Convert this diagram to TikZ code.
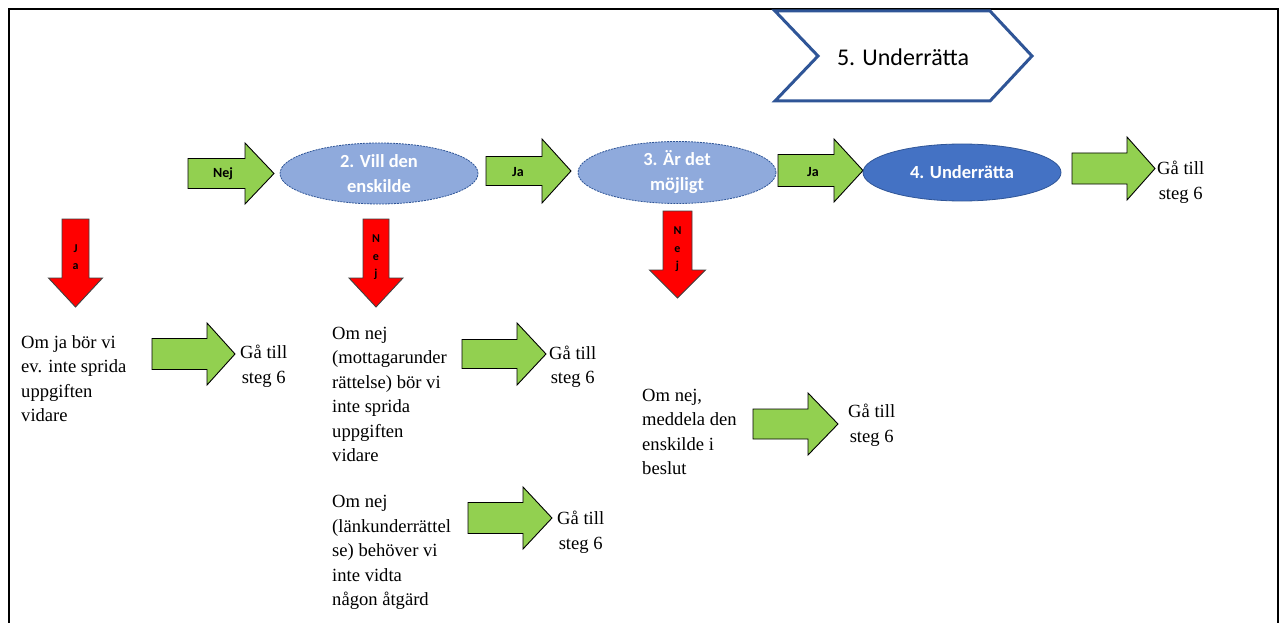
\documentclass[tikz,border=0pt]{standalone}
\usepackage{fontspec}
\setmainfont{Liberation Serif}
\newfontfamily\calib{Carlito}
\usetikzlibrary{shapes.geometric}
\definecolor{greenfill}{HTML}{92D050}
\definecolor{lightblue}{HTML}{8FAADC}
\definecolor{midblue}{HTML}{4472C4}
\definecolor{blueline}{HTML}{2F5597}
\newcommand{\greenblock}[6]{\draw[garrow] (#1,#4-#5) -- (#2,#4-#5) -- (#2,#4-#6) -- (#3,#4) -- (#2,#4+#6) -- (#2,#4+#5) -- (#1,#4+#5) -- cycle;}
\newcommand{\redblock}[6]{\draw[rarrow] (#1-#5,#2) -- (#1+#5,#2) -- (#1+#5,#3) -- (#1+#6,#3) -- (#1,#4) -- (#1-#6,#3) -- (#1-#5,#3) -- cycle;}
\tikzset{
  garrow/.style={fill=greenfill, draw=black, line width=0.9pt, line join=miter},
  rarrow/.style={fill=red, draw=black!75, line width=0.9pt, line join=miter},
  body/.style={font=\fontsize{18.6}{24.5}\selectfont, align=left, inner sep=0pt, anchor=west},
  goto/.style={font=\fontsize{18.6}{24.5}\selectfont, align=center, inner sep=0pt, anchor=west},
  lightell/.style={ellipse, fill=lightblue, draw=blueline, dash pattern=on 2pt off 1pt, line width=0.8pt, inner sep=0pt, text=white, font=\calib\bfseries\fontsize{18.5}{25}\selectfont, align=center},
  darkell/.style={ellipse, fill=midblue, draw=blueline, line width=0.8pt, inner sep=0pt, text=white, font=\calib\bfseries\fontsize{18.5}{25}\selectfont, align=center},
  glab/.style={font=\calib\bfseries\fontsize{14}{16}\selectfont, inner sep=0pt},
  rlab/.style={font=\calib\bfseries\fontsize{12}{17.5}\selectfont, align=center, inner sep=0pt}
}
\begin{document}
\begin{tikzpicture}[x=1pt, y=-1pt]
\useasboundingbox (0,0) rectangle (1280,623);
\fill[white] (0,0) rectangle (1280,623);
% frame
\draw[line width=2pt, black] (9,640) -- (9,9) -- (1278,9) -- (1278,640);
% chevron
\draw[blueline, line width=3pt, fill=white, line join=miter] (775,11) -- (990,11) -- (1032,56) -- (990,101) -- (775,101) -- (818,56) -- cycle;
\node[font=\calib\fontsize{24}{28}\selectfont, inner sep=0pt] (t5) at (903,57) {5. Underrätta};
% top row
\greenblock{188}{245}{274}{173.5}{15}{30.5}
\node[glab] (lNej) at (223,173.5) {Nej};
\node[lightell, minimum width=198pt, minimum height=61pt] (e2) at (379,173.5) {2. Vill den\\enskilde};
\greenblock{486}{542}{571}{171}{14.5}{32}
\node[glab] (lJa1) at (518,172) {Ja};
\node[lightell, minimum width=198pt, minimum height=62pt] (e3) at (677,172.5) {3. Är det\\möjligt};
\greenblock{778}{834}{863}{170.5}{16}{31.5}
\node[glab] (lJa2) at (813,172) {Ja};
\node[darkell, minimum width=198pt, minimum height=57pt] (e4) at (962,172.5) {4. Underrätta};
\greenblock{1072}{1127}{1155}{168.5}{15.5}{31.5}
\node[goto] (g1) at (1157,182.5) {Gå till\\ steg 6};
% red arrows
\redblock{75.5}{219}{278}{307}{13.5}{27}
\node[rlab] (r1) at (75.5,257) {J\\a};
\redblock{376}{219}{278}{307}{13}{27}
\node[rlab] (r2) at (376,257.5) {N\\e\\j};
\redblock{677.5}{211}{270}{298}{14.5}{28}
\node[rlab] (r3) at (677.5,249.5) {N\\e\\j};
% left column
\node[body] (tA) at (21,378.5) {Om ja bör vi\\ev. inte sprida\\uppgiften\\vidare};
\greenblock{152}{207}{235}{354}{15.5}{31}
\node[goto] (g2) at (240,366.5) {Gå till\\ steg 6};
% middle column
\node[body] (tB) at (332,394.5) {Om nej\\(mottagarunder\\rättelse) bör vi\\inte sprida\\uppgiften\\vidare};
\greenblock{462}{517}{546}{354}{14.5}{31}
\node[goto] (g3) at (549,367) {Gå till\\ steg 6};
\node[body] (tD) at (332,552.5) {Om nej\\(länkunderrättel\\se) behöver vi\\inte vidta\\någon åtgärd};
\greenblock{468}{523}{552}{518}{15.5}{31}
\node[goto] (g5) at (557,532.5) {Gå till\\ steg 6};
% right column
\node[body] (tC) at (642,432) {Om nej,\\meddela den\\enskilde i\\beslut};
\greenblock{753}{808}{838}{424}{15}{31}
\node[goto] (g4) at (848,425.5) {Gå till\\ steg 6};
\end{tikzpicture}
\end{document}
